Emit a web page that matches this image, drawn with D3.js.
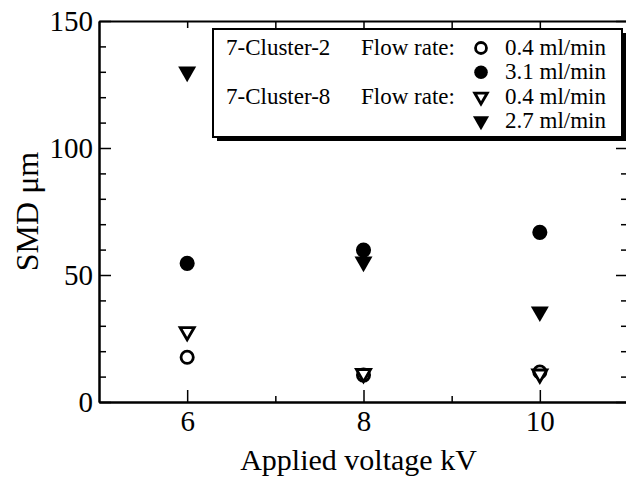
<!DOCTYPE html>
<html>
<head>
<meta charset="utf-8">
<script src="https://cdn.jsdelivr.net/npm/d3@7"></script>
</head>
<body style="margin:0">
<script>
// ----------------------------------
// DATA
// ----------------------------------
const voltages = [6, 8, 10];
const c2Low = [17.6, 10.6, 11.8];    // 7-Cluster-2, 0.4 ml/min
const c2High = [54.6, 59.8, 66.8];   // 7-Cluster-2, 3.1 ml/min
const c8Low = [27.7, 11.2, 11.0];    // 7-Cluster-8, 0.4 ml/min
const c8High = [130, 55.2, 35.6];    // 7-Cluster-8, 2.7 ml/min

const xMajorTicks = [6, 8, 10];
const xMinorTicks = [7, 9];
const yMajorTicks = [0, 50, 100, 150];
const yMinorTicks = [10, 20, 30, 40, 60, 70, 80, 90, 110, 120, 130, 140];

const legendRows = [
	{ group: '7-Cluster-2', rate: '0.4 ml/min', symbol: 'circle', filled: false },
	{ group: '', rate: '3.1 ml/min', symbol: 'circle', filled: true },
	{ group: '7-Cluster-8', rate: '0.4 ml/min', symbol: 'triangle', filled: false },
	{ group: '', rate: '2.7 ml/min', symbol: 'triangle', filled: true }
];

const series = [
	{ values: c2Low, symbol: 'circle', filled: false },
	{ values: c8Low, symbol: 'triangle', filled: false },
	{ values: c2High, symbol: 'circle', filled: true },
	{ values: c8High, symbol: 'triangle', filled: true }
];

const fontName = 'Liberation Serif';

// ----------------------------------
// SET UP THE SVG
// ----------------------------------
const width = 626, height = 479;
const margin = { top: 21, left: 99, bottom: 77 };
const plotRight = 628;

const svg = d3.select('body')
	.append('svg')
	.attr('width', width)
	.attr('height', height)
	.style('font-family', `"${fontName}"`);

const xScale = d3.scaleLinear()
	.domain([5, 11])
	.range([margin.left, plotRight]);

const yScale = d3.scaleLinear()
	.domain([0, 150])
	.range([height - margin.bottom, margin.top]);

const x0 = xScale.range()[0], x1 = xScale.range()[1];
const y0 = yScale.range()[0], y1 = yScale.range()[1];

function addText(x, y, str, size){
	return svg.append('text')
		.attr('x', x)
		.attr('y', y)
		.style('font-family', `"${fontName}"`)
		.style('font-size', size + 'px')
		.text(str);
}

// ----------------------------------
// AXES (ticks point inward on all four sides)
// ----------------------------------
function addAxis(axisFn, scale, values, size, translate, labels, pad){
	const ax = axisFn(scale)
		.tickValues(values)
		.tickSizeInner(-size)
		.tickSizeOuter(0)
		.tickPadding(pad || 3)
		.tickFormat(labels ? d3.format('d') : '');
	const g = svg.append('g')
		.attr('transform', translate)
		.call(ax)
		.attr('font-family', null)
		.attr('font-size', null);
	g.select('.domain').attr('stroke', '#000').attr('stroke-width', 2);
	g.selectAll('.tick line').attr('stroke', '#000').attr('stroke-width', 1.5);
	g.selectAll('.tick text')
		.style('font-family', `"${fontName}"`)
		.style('font-size', '29px');
	return g;
}

addAxis(d3.axisBottom, xScale, xMajorTicks, 12, `translate(0,${y0})`, true, 8);
addAxis(d3.axisBottom, xScale, xMinorTicks, 6, `translate(0,${y0})`, false);
addAxis(d3.axisTop, xScale, xMajorTicks.concat(xMinorTicks), 7, `translate(0,${y1})`, false);

addAxis(d3.axisLeft, yScale, yMajorTicks, 12, `translate(${x0},0)`, true, 6);
addAxis(d3.axisLeft, yScale, yMinorTicks, 7, `translate(${x0},0)`, false);
addAxis(d3.axisRight, yScale, yMajorTicks, 12, `translate(${x1},0)`, false);
addAxis(d3.axisRight, yScale, yMinorTicks, 7, `translate(${x1},0)`, false);

// axis titles
addText((x0 + 618) / 2, 470, 'Applied voltage kV', 30)
	.attr('text-anchor', 'middle');

addText(0, 0, 'SMD μm', 32)
	.attr('transform', `translate(38,${(y0 + y1) / 2}) rotate(-90)`)
	.attr('text-anchor', 'middle');

// ----------------------------------
// MARKERS
// ----------------------------------
function symbolPath(type, filled, scaleBy){
	const k = scaleBy || 1;
	if (type === 'circle') {
		return d3.symbol().type(d3.symbolCircle).size((filled ? 180 : 118) * k)();
	}
	return d3.symbol().type(d3.symbolTriangle).size((filled ? 140 : 86) * k)();
}

function drawMarker(sel, type, filled, scaleBy){
	sel.append('path')
		.attr('d', symbolPath(type, filled, scaleBy))
		.attr('fill', filled ? '#000' : '#fff')
		.attr('stroke', filled ? 'none' : '#000')
		.attr('stroke-width', filled ? 0 : 2.8);
}

series.forEach(s => {
	const pts = svg.append('g')
		.selectAll('g')
		.data(voltages.map((v, i) => ({ x: v, y: s.values[i] })))
		.join('g')
		.attr('transform', d => {
			const rot = s.symbol === 'triangle' ? ' rotate(180)' : '';
			return `translate(${xScale(d.x)},${yScale(d.y)})${rot}`;
		});
	pts.each(function(){ drawMarker(d3.select(this), s.symbol, s.filled); });
});

// ----------------------------------
// LEGEND
// ----------------------------------
const lg = { x: 213, y: 29, w: 409, h: 108, shadow: 4 };

svg.append('rect')
	.attr('x', lg.x + lg.shadow)
	.attr('y', lg.y + lg.shadow)
	.attr('width', lg.w)
	.attr('height', lg.h)
	.attr('fill', '#000');

svg.append('rect')
	.attr('x', lg.x)
	.attr('y', lg.y)
	.attr('width', lg.w)
	.attr('height', lg.h)
	.attr('fill', '#fff')
	.attr('stroke', '#000')
	.attr('stroke-width', 2);

const rowY = d3.scaleLinear().domain([0, 3]).range([55, 128]);

legendRows.forEach((r, i) => {
	const by = rowY(i);
	if (r.group) {
		addText(226, by, r.group, 23);
		addText(361, by, 'Flow rate:', 23);
	}
	const rot = r.symbol === 'triangle' ? ' rotate(180)' : '';
	const m = svg.append('g').attr('transform', `translate(481,${by - 7})${rot}`);
	drawMarker(m, r.symbol, r.filled, 0.8);
	addText(505, by, r.rate, 23);
});
</script>
</body>
</html>
